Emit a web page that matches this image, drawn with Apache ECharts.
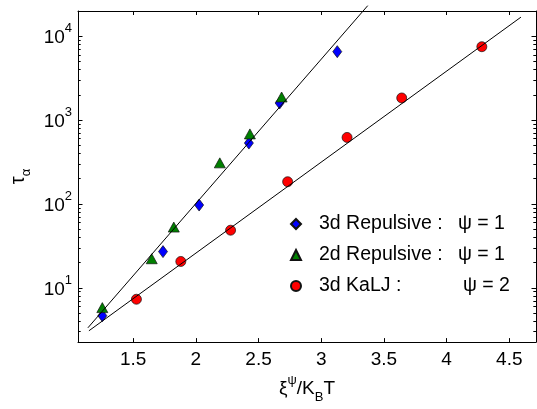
<!DOCTYPE html>
<html><head><meta charset="utf-8">
<script src="https://cdn.jsdelivr.net/npm/echarts@6/dist/echarts.min.js"></script>
<style>html,body{margin:0;padding:0;background:#fff}#c{width:537px;height:409px}</style>
</head><body><div id="c"></div>
<script>
const xRange = [1.06, 4.713];
const yRange = [2.25, 20000];
const xTicks = [1.5, 2, 2.5, 3, 3.5, 4, 4.5];
const yMajor = [10, 100, 1000, 10000];
const yMinor = [3,4,5,6,7,8,9, 20,30,40,50,60,70,80,90, 200,300,400,500,600,700,800,900, 2000,3000,4000,5000,6000,7000,8000,9000];
const rep3d = [[1.254,4.65],[1.738,27],[2.026,97],[2.423,532],[2.668,1600],[3.128,6550]];
const rep2d = [[1.254,5.8],[1.648,22.2],[1.824,53],[2.191,309],[2.431,684],[2.684,1885]];
const kalj = [[1.526,7.3],[1.880,20.6],[2.277,48.6],[2.732,184],[3.206,621],[3.642,1836],[4.281,7500]];
const fitRep = [[1.139,3.33],[3.371,23170]];
const fitKalj = [[1.147,3.07],[4.593,16900]];
const legendNames = ['3d Repulsive :', '2d Repulsive :', '3d KaLJ :'];
const legendPsi = ['ψ = 1', 'ψ = 1', 'ψ = 2'];

const FONT = 'Liberation Sans, Arial, sans-serif';
const chart = echarts.init(document.getElementById('c'), null, {renderer: 'canvas'});
const black = '#000';

function yAx(pos, values, len, showLine, showLabel) {
  return {
    type: 'log', logBase: 10, min: yRange[0], max: yRange[1], position: pos,
    axisLine: {show: showLine, onZero: false, lineStyle: {color: black, width: 1}},
    axisTick: {show: true, inside: true, length: len, customValues: values, lineStyle: {color: black, width: 1}},
    minorTick: {show: false},
    splitLine: {show: false},
    axisLabel: showLabel ? {
      show: true, customValues: values, margin: 6, fontFamily: FONT,
      formatter: v => '{b|10}{e|' + Math.round(Math.log10(v)) + '}',
      rich: {
        b: {fontSize: 19, lineHeight: 28, padding: [4, 0, 0, 0], color: black, fontFamily: FONT},
        e: {fontSize: 13, verticalAlign: 'top', color: black, fontFamily: FONT}
      }
    } : {show: false}
  };
}
function xAx(pos, showLabel) {
  return {
    type: 'value', min: xRange[0], max: xRange[1], position: pos,
    axisLine: {show: true, onZero: false, lineStyle: {color: black, width: 1}},
    axisTick: {show: true, inside: true, length: 4, customValues: xTicks, lineStyle: {color: black}},
    splitLine: {show: false},
    axisLabel: showLabel ? {show: true, customValues: xTicks, margin: 8, fontSize: 19, color: black, fontFamily: FONT,
      formatter: v => String(v)} : {show: false}
  };
}

const xa0 = xAx('bottom', true);
xa0.name = '{n|ξ}{p|ψ}{n|/K}{s|B}{n|T}';
xa0.nameLocation = 'middle';
xa0.nameGap = 16;
xa0.nameTextStyle = {
  verticalAlign: 'top', fontFamily: FONT,
  rich: {
    n: {fontSize: 19, lineHeight: 30, color: black, fontFamily: FONT},
    p: {fontSize: 13, verticalAlign: 'top', color: black, fontFamily: FONT},
    s: {fontSize: 13, verticalAlign: 'bottom', color: black, fontFamily: FONT}
  }
};

const ya0 = yAx('left', yMajor, 4.5, true, true);
ya0.name = '{n|τ}{s|α}';
ya0.nameLocation = 'middle';
ya0.nameGap = 45;
ya0.nameTextStyle = {
  fontFamily: FONT,
  rich: {
    n: {fontSize: 20, lineHeight: 28, color: black, fontFamily: FONT},
    s: {fontSize: 13, verticalAlign: 'bottom', color: black, fontFamily: FONT}
  }
};

const mk = (name, data, symbol, size, color) => ({
  name, type: 'scatter', data, symbol, symbolSize: size, z: 3,
  itemStyle: {color, borderColor: '#111', borderWidth: 0.7, opacity: 1}
});
const fit = data => ({
  type: 'line', data, symbol: 'none', clip: false, silent: true, z: 4,
  lineStyle: {color: black, width: 1}
});

const LF = {fontSize: 19.5, lineHeight: 20, color: black, fontFamily: FONT};
const legendRich = {
  g: Object.assign({width: 13}, LF),
  a0: Object.assign({width: 139}, LF),
  a1: Object.assign({width: 139}, LF),
  a2: Object.assign({width: 144}, LF),
  b: Object.assign({}, LF)
};

chart.setOption({
  animation: false,
  backgroundColor: '#fff',
  grid: {left: 78, right: 1, top: 11, bottom: 62, containLabel: false},
  xAxis: [xa0, xAx('top', false)],
  yAxis: [ya0, yAx('left', yMinor, 2.7, false, false), yAx('right', yMajor, 4.5, true, false), yAx('right', yMinor, 2.7, false, false)],
  legend: {
    orient: 'vertical', left: 290, top: 214, itemWidth: 10, itemHeight: 10, itemGap: 11, padding: 0,
    data: legendNames,
    formatter: name => {
      const i = legendNames.indexOf(name);
      return '{g| }{a' + i + '|' + name + '}{b|' + legendPsi[i] + '}';
    },
    textStyle: {fontFamily: FONT, fontSize: 19.5, color: black, rich: legendRich}
  },
  series: [
    mk(legendNames[0], rep3d, 'diamond', [9, 12], '#0000ff'),
    mk(legendNames[1], rep2d, 'triangle', [11, 10], '#008000'),
    mk(legendNames[2], kalj, 'circle', 10, '#ff0000'),
    fit(fitRep),
    fit(fitKalj)
  ]
});
</script></body></html>
